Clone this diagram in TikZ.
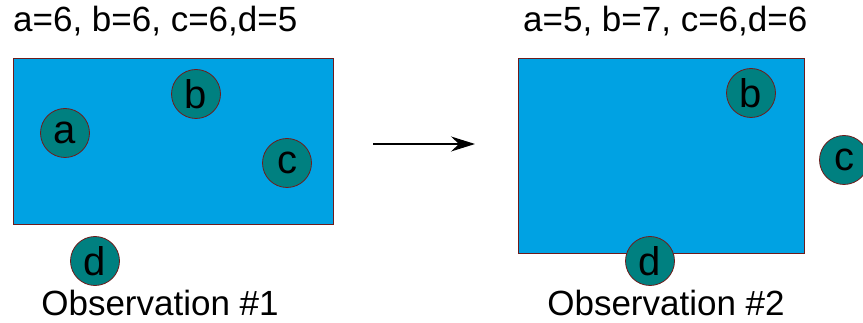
\documentclass[tikz,border=0pt]{standalone}
\usepackage{fontspec}
\setmainfont{Liberation Sans}
\usetikzlibrary{arrows.meta}
\definecolor{field}{RGB}{0,162,227}
\definecolor{rim}{RGB}{110,28,28}
\definecolor{token}{RGB}{0,128,128}
\tikzset{
  region/.style={draw=rim, fill=field, line width=1pt},
  token/.style={circle, draw=rim, fill=token, line width=0.8pt, minimum size=49pt, inner sep=0pt, font=\fontsize{40}{40}\selectfont},
  caption/.style={font=\fontsize{35}{35}\selectfont, inner sep=0pt},
}
\begin{document}
\begin{tikzpicture}[x=1pt, y=-1pt]
  \useasboundingbox (0,0) rectangle (863,323);
  % first observation
  \node[caption, anchor=base west] (t1) at (13,32) {a=6, b=6, c=6,d=5};
  \draw[region] (13,59) rectangle (333,225);
  \node[token] (a1) at (65,133) {a};
  \node[token] (b1) at (196,94) {b};
  \node[token] (c1) at (287,163) {c};
  \node[token] (d1) at (95,261) {d};
  \node[caption, anchor=base] (o1) at (160,316) {Observation \#1};
  % transition
  \coordinate (s) at (373,144);
  \coordinate (e) at (475,144);
  \draw[line width=1.1pt, -{Stealth[length=24pt, width=15pt, inset=8pt]}] (s) -- (e);
  % second observation
  \node[caption, anchor=base west] (t2) at (523,32) {a=5, b=7, c=6,d=6};
  \draw[region] (518,59) rectangle (804,254);
  \node[token] (b2) at (751,93) {b};
  \node[token] (c2) at (844,160) {c};
  \node[token] (d2) at (650,261) {d};
  \node[caption, anchor=base] (o2) at (666,316) {Observation \#2};
\end{tikzpicture}
\end{document}
